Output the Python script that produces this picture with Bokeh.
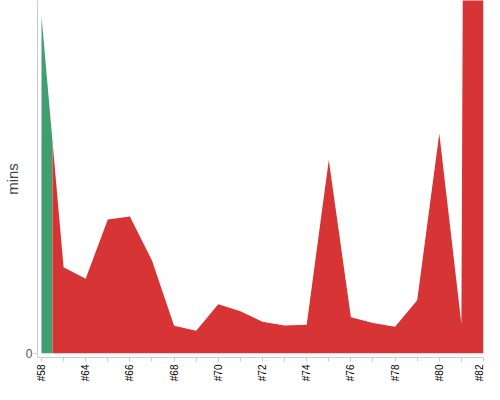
import math
from bokeh.plotting import figure
from bokeh.models import Range1d, FixedTicker
from bokeh.embed import file_html
from bokeh.resources import INLINE

# categories (build numbers) and duration in minutes
builds = ["#58", "#63", "#64", "#65", "#66", "#67", "#68", "#69", "#70", "#71",
          "#72", "#73", "#74", "#75", "#76", "#77", "#78", "#79", "#80", "#81", "#82"]
mins = [95.6, 24.4, 21.1, 37.9, 38.8, 26.3, 7.8, 6.4, 13.9, 11.9,
        8.9, 7.9, 8.1, 54.8, 10.2, 8.6, 7.5, 15.0, 62.3, 8.3, 1550.0]
# status of each interval: first build passed, the rest failed
green_until = 0.5

GREEN = "#429e6e"
RED = "#d63435"

idx = list(range(len(builds)))
mid = mins[0] + (mins[1] - mins[0]) * green_until

p = figure(width=484, height=384, output_backend="svg", toolbar_location=None,
           x_range=Range1d(-0.18, len(builds) - 1), y_range=Range1d(-1.2, 100),
           x_axis_label=None,
           min_border_left=0, min_border_right=1, min_border_top=0, min_border_bottom=0)

p.varea(x=[0, green_until], y1=[0, 0], y2=[mins[0], mid], fill_color=GREEN)
p.varea(x=[green_until] + idx[1:], y1=[0] * len(idx), y2=[mid] + mins[1:], fill_color=RED)

p.outline_line_color = None
p.xgrid.visible = False
p.ygrid.visible = False
p.background_fill_color = "white"

xa = p.xaxis[0]
xa.axis_label = None
xa.axis_label_standoff = 0
xa.ticker = FixedTicker(ticks=idx)
xa.major_label_overrides = {i: (b if i % 2 == 0 else "") for i, b in zip(idx, builds)}
xa.major_label_orientation = math.pi / 2
xa.axis_line_color = "#cccccc"
xa.major_tick_line_color = "#cccccc"
xa.major_tick_out = 4
xa.major_tick_in = 0
xa.minor_tick_line_color = None
xa.major_label_text_font = "Liberation Sans"
xa.major_label_text_font_size = "10px"
xa.major_label_text_color = "#000000"
xa.major_label_standoff = 3

ya = p.yaxis[0]
ya.ticker = FixedTicker(ticks=[0])
ya.axis_label = "mins"
ya.axis_label_text_font = "Liberation Sans"
ya.axis_label_text_font_size = "15px"
ya.axis_label_text_font_style = "normal"
ya.axis_label_text_color = "#444444"
ya.axis_label_standoff = 2
ya.axis_line_color = "#cccccc"
ya.major_tick_line_color = "#cccccc"
ya.major_tick_out = 4
ya.major_tick_in = 0
ya.minor_tick_line_color = None
ya.major_label_text_font = "Liberation Sans"
ya.major_label_text_font_size = "12px"
ya.major_label_text_color = "#555555"
ya.major_label_standoff = 1

open("out.html", "w").write(file_html(p, INLINE))
